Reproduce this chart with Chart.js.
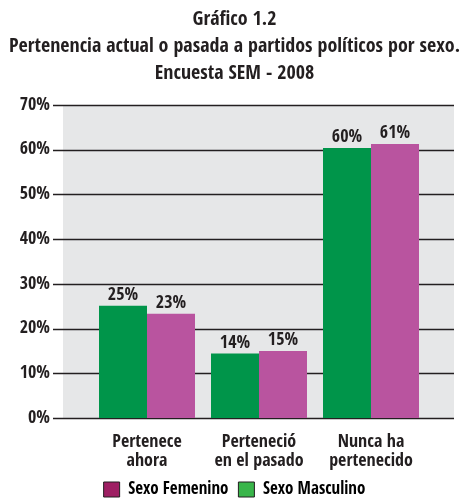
<!DOCTYPE html>
<html>
<head>
<meta charset="utf-8">
<script src="https://cdn.jsdelivr.net/npm/chart.js@4.4.0/dist/chart.umd.min.js"></script>
<style>
    html, body { margin: 0; padding: 0; background: #fff; }
</style>
</head>
<body>
<canvas id="chart" width="469" height="499"></canvas>
<script>
// --- Data ---
const titleLines = ['Gráfico 1.2', 'Pertenencia actual o pasada a partidos políticos por sexo.', 'Encuesta SEM - 2008'];
const categories = [['Pertenece', 'ahora'], ['Perteneció', 'en el pasado'], ['Nunca ha', 'pertenecido']];
const masculino = [25.1, 14.4, 60.4];
const femenino = [23.3, 15.0, 61.3];
const yTicks = [0, 10, 20, 30, 40, 50, 60, 70];

const FONT = "'Open Sans Condensed', 'DejaVu Sans Condensed', sans-serif";
const TEXT = '#231f20';

// gray panel + grid lines, wider than the chart area like in the print version
const panelPlugin = {
    id: 'panel',
    beforeDraw(chart) {
        const { ctx, chartArea: a, scales } = chart;
        ctx.save();
        ctx.fillStyle = '#e6e7e8';
        ctx.fillRect(a.left - 28, a.top, a.right - a.left + 55, a.bottom - a.top);
        ctx.strokeStyle = TEXT;
        ctx.lineWidth = 1.3;
        yTicks.forEach(v => {
            const y = Math.round(scales.y.getPixelForValue(v)) + 0.5;
            ctx.beginPath();
            ctx.moveTo(a.left - 38, y);
            ctx.lineTo(a.right + 27, y);
            ctx.stroke();
        });
        ctx.restore();
    }
};

// value labels on top of each bar
const valuePlugin = {
    id: 'values',
    afterDatasetsDraw(chart) {
        const { ctx } = chart;
        ctx.save();
        ctx.font = 'bold 18px ' + FONT;
        ctx.fillStyle = TEXT;
        ctx.textAlign = 'center';
        ctx.textBaseline = 'alphabetic';
        chart.data.datasets.forEach((ds, i) => {
            chart.getDatasetMeta(i).data.forEach((bar, j) => {
                ctx.fillText(Math.round(ds.data[j]) + '%', bar.x, bar.y - 6);
            });
        });
        ctx.restore();
    }
};

new Chart(document.getElementById('chart'), {
    type: 'bar',
    data: {
        labels: categories,
        datasets: [
            { label: 'Sexo Masculino', data: masculino, backgroundColor: '#00954a' },
            { label: 'Sexo Femenino', data: femenino, backgroundColor: '#b9549f' }
        ]
    },
    options: {
        responsive: false,
        animation: false,
        layout: { padding: { left: 0, right: 0, top: 0, bottom: -9 } },
        datasets: { bar: { categoryPercentage: 96 / 112, barPercentage: 1 } },
        plugins: {
            title: {
                display: true,
                text: titleLines,
                color: TEXT,
                font: { family: FONT, size: 20, weight: 'bold', lineHeight: 1.35 },
                padding: { top: 6, bottom: 18 }
            },
            legend: {
                position: 'bottom',
                labels: {
                    color: TEXT,
                    font: { family: FONT, size: 17, weight: 'bold' },
                    boxWidth: 16,
                    boxHeight: 15,
                    padding: 10,
                    generateLabels: () => [
                        { text: 'Sexo Femenino', fillStyle: '#9e1f63', strokeStyle: TEXT, lineWidth: 1, datasetIndex: 1 },
                        { text: 'Sexo Masculino', fillStyle: '#39b54a', strokeStyle: TEXT, lineWidth: 1, datasetIndex: 0 }
                    ]
                }
            },
            tooltip: { enabled: false }
        },
        scales: {
            x: {
                grid: { display: false, drawTicks: false },
                border: { display: false },
                ticks: { color: TEXT, font: { family: FONT, size: 18, weight: 'bold', lineHeight: 1.05 }, padding: 15, maxRotation: 0, autoSkip: false },
                afterFit: s => { s.height = 53; }
            },
            y: {
                min: 0,
                max: 70,
                grid: { display: false, drawTicks: false },
                border: { display: false },
                ticks: { stepSize: 10, color: TEXT, font: { family: FONT, size: 18, weight: 'bold' }, padding: 41, callback: v => v + '%' },
                afterFit: s => { s.width = 91; }
            },
            // empty spacer on the right so the title can stay centred on the full width
            spacer: {
                position: 'right',
                grid: { display: false, drawTicks: false },
                border: { display: false },
                ticks: { display: false },
                afterFit: s => { s.width = 42; }
            }
        }
    },
    plugins: [panelPlugin, valuePlugin]
});
</script>
</body>
</html>
